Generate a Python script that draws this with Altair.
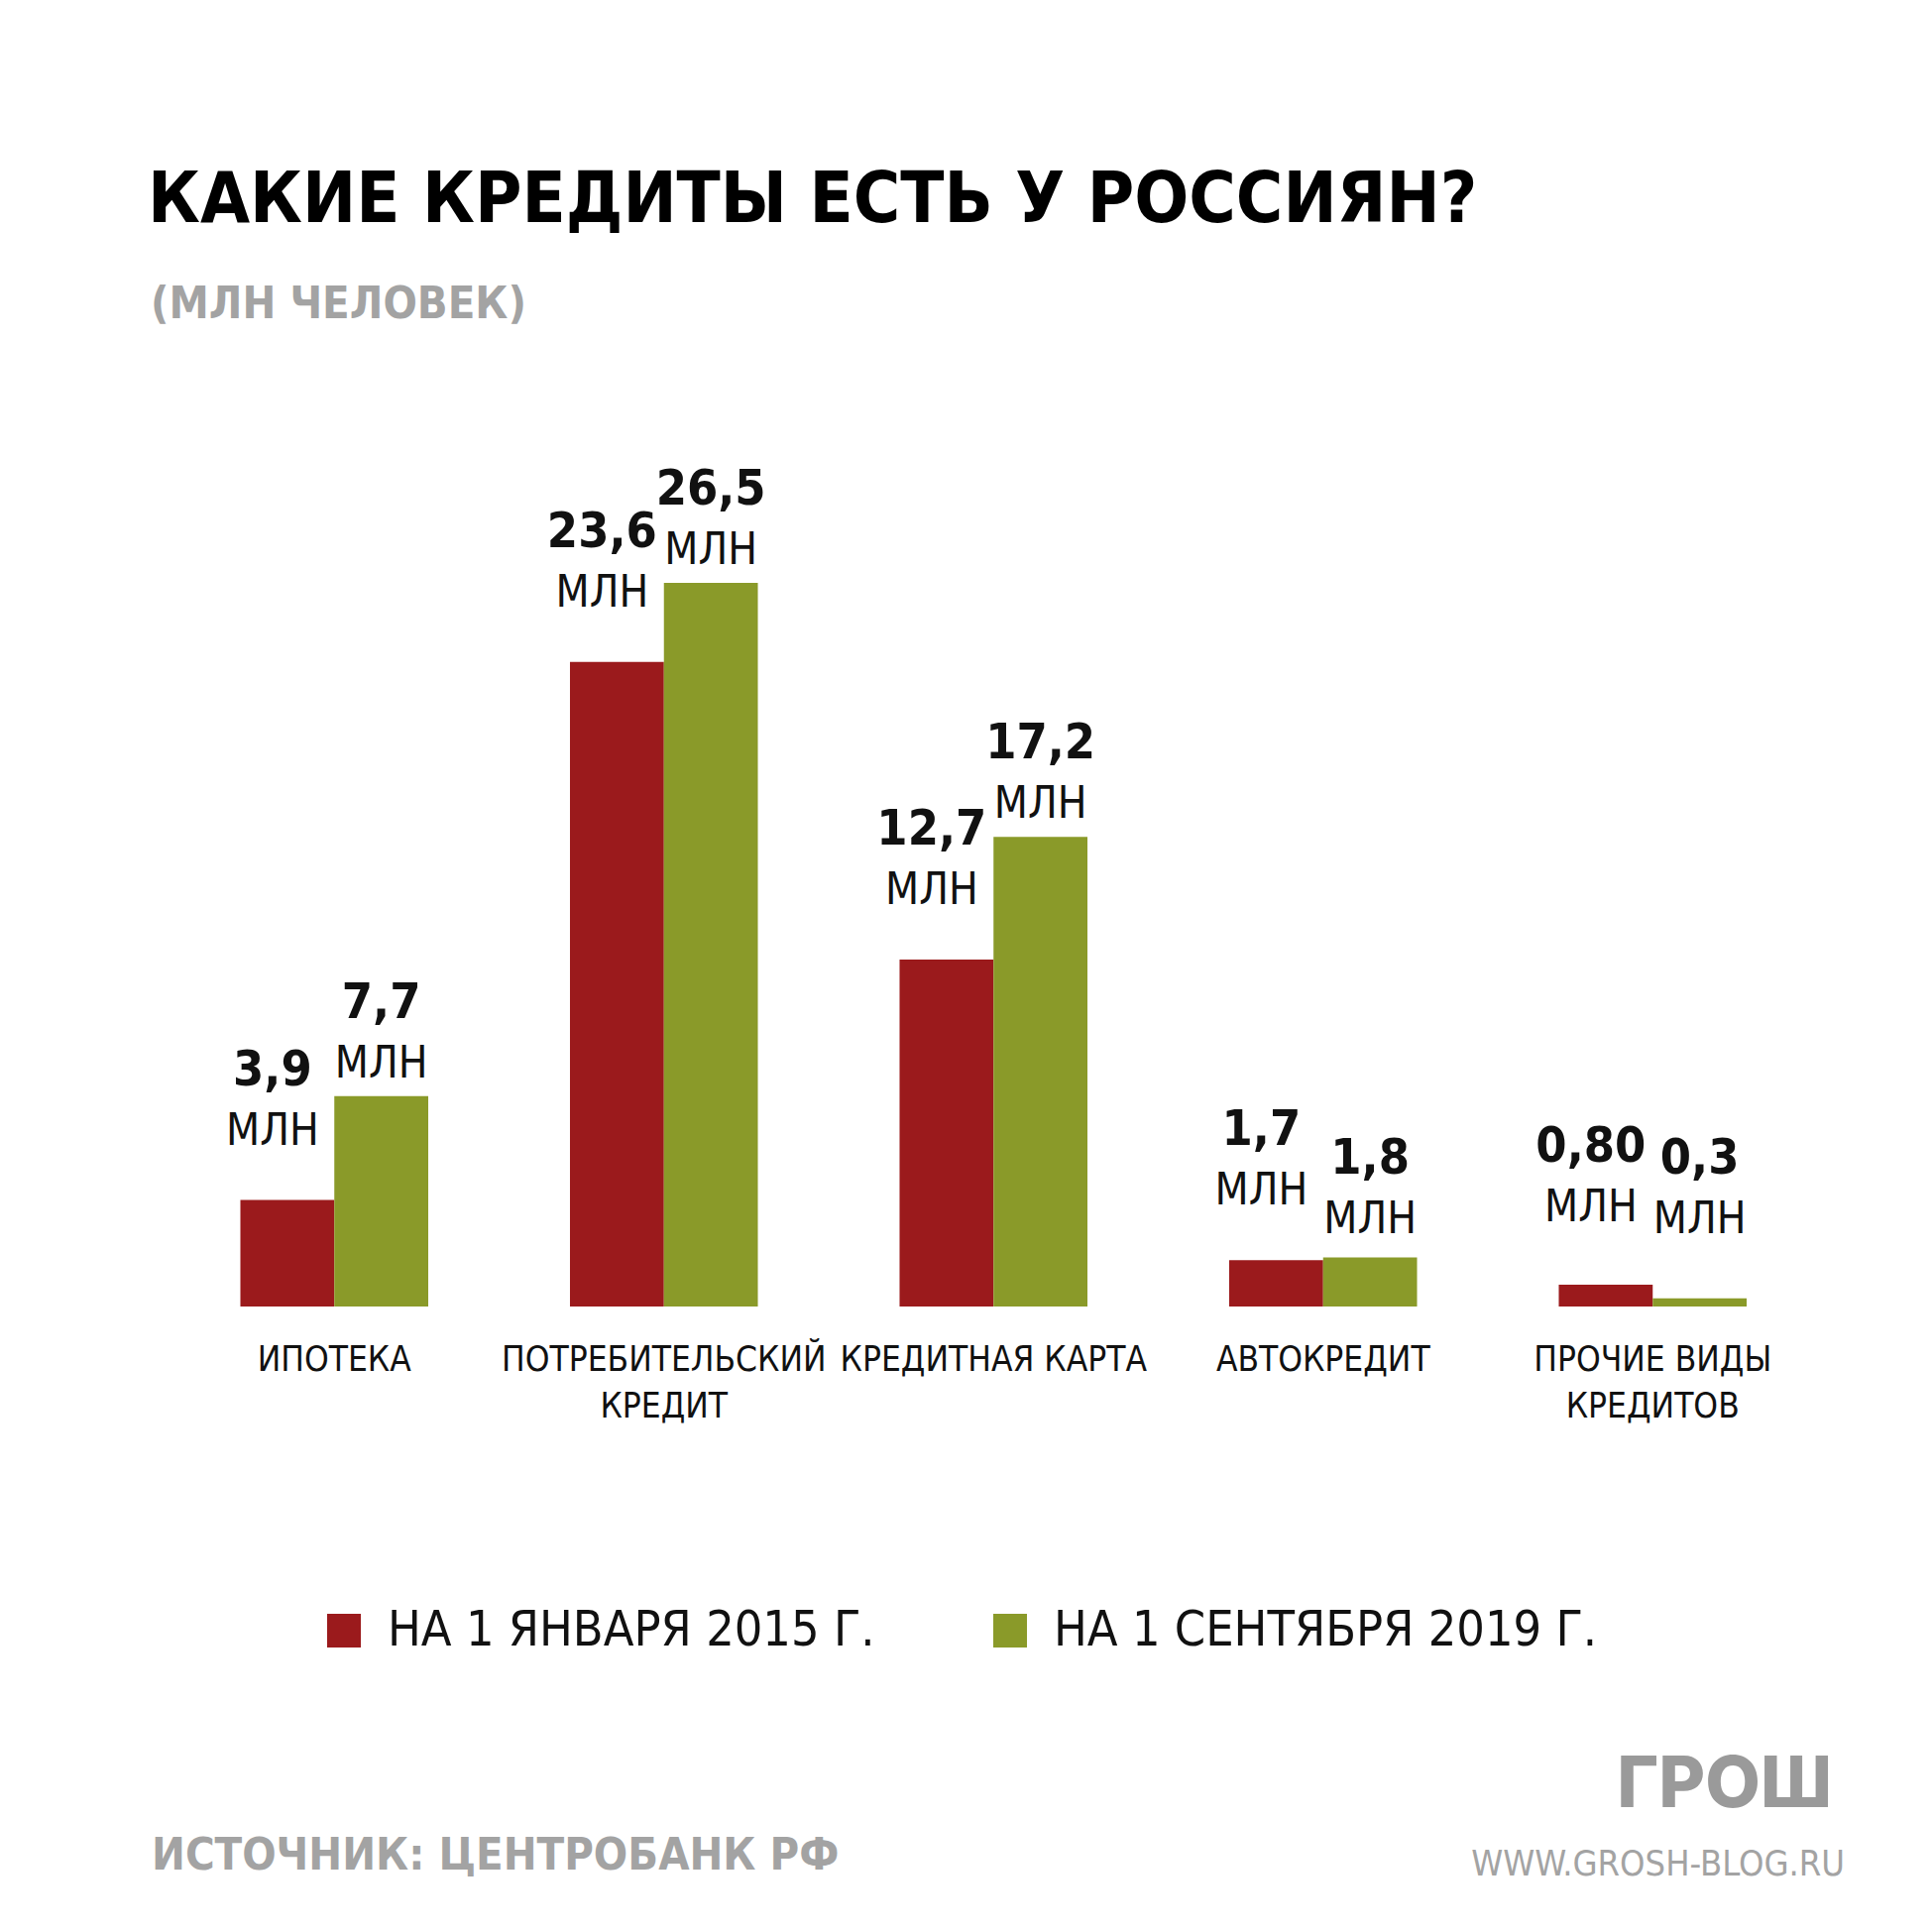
import altair as alt
import pandas as pd

# ---------------- data ----------------
categories = ["ИПОТЕКА", "ПОТРЕБИТЕЛЬСКИЙ|КРЕДИТ", "КРЕДИТНАЯ КАРТА", "АВТОКРЕДИТ", "ПРОЧИЕ ВИДЫ|КРЕДИТОВ"]
series = ["НА 1 ЯНВАРЯ 2015 Г.", "НА 1 СЕНТЯБРЯ 2019 Г."]
values_2015 = [3.9, 23.6, 12.7, 1.7, 0.80]
values_2019 = [7.7, 26.5, 17.2, 1.8, 0.3]
labels_2015 = ["3,9", "23,6", "12,7", "1,7", "0,80"]
labels_2019 = ["7,7", "26,5", "17,2", "1,8", "0,3"]
unit = "МЛН"
colors = ["#9b1a1c", "#8a9a29"]

title_text = "КАКИЕ КРЕДИТЫ ЕСТЬ У РОССИЯН?"
subtitle_text = "(МЛН ЧЕЛОВЕК)"
source_text = "ИСТОЧНИК: ЦЕНТРОБАНК РФ"
logo_text = "ГРОШ"
url_text = "WWW.GROSH-BLOG.RU"

rows = []
for i, c in enumerate(categories):
    rows.append({"cat": c, "series": series[0], "s": 0, "value": values_2015[i], "label": labels_2015[i], "unit": unit})
    rows.append({"cat": c, "series": series[1], "s": 1, "value": values_2019[i], "label": labels_2019[i], "unit": unit})
df = pd.DataFrame(rows)

FONT = "'DejaVu Sans Condensed', 'Liberation Sans', sans-serif"
INK = "#111111"
GRAY = "#a3a3a3"

W = 1662.5
H = 826.5

yscale = alt.Scale(domain=[0, 30], nice=False, zero=True)
x_enc = alt.X(
    "cat:N",
    sort=categories,
    scale=alt.Scale(paddingInner=0.43, paddingOuter=0.215),
    axis=alt.Axis(
        title=None, labelExpr="split(datum.value, '|')", labelAngle=0,
        domain=False, ticks=False, labelFont=FONT, labelFontSize=35,
        labelColor=INK, labelPadding=36, labelBaseline="top",
        labelLineHeight=47, labelLimit=600,
    ),
)
xo_enc = alt.XOffset("series:N", sort=series, scale=alt.Scale(paddingInner=0, paddingOuter=0))

base = alt.Chart(df)

bars = base.mark_bar().encode(
    x=x_enc,
    xOffset=xo_enc,
    y=alt.Y("value:Q", scale=yscale, axis=None),
    color=alt.Color(
        "series:N",
        sort=series,
        scale=alt.Scale(domain=series, range=colors),
        legend=alt.Legend(
            title=None, orient="none", legendX=151, legendY=1128.5,
            direction="horizontal", symbolType="square", symbolSize=1156,
            symbolStrokeWidth=0, symbolOpacity=1, labelFont=FONT,
            labelFontSize=50, labelColor=INK, labelOffset=19,
            columnPadding=111, padding=0, labelLimit=2000,
        ),
    ),
)


def label_layer(s_idx, floor, field, dy, dx, size, weight):
    return (
        base.transform_filter(alt.datum.s == s_idx)
        .transform_calculate(ly=f"max(datum.value, {floor})")
        .mark_text(font=FONT, fontSize=size, fontWeight=weight, dy=dy, dx=dx,
                   baseline="alphabetic", align="center", color=INK)
        .encode(
            x=alt.X("cat:N", sort=categories),
            xOffset=alt.XOffset("series:N", sort=series),
            y=alt.Y("ly:Q", scale=yscale, axis=None),
            text=alt.Text(f"{field}:N"),
        )
    )


red_num = label_layer(0, 1.1, "label", -116, -15, 50, "bold")
red_unit = label_layer(0, 1.1, "unit", -56, -15, 44, "normal")
green_num = label_layer(1, 2.0, "label", -79, 0, 50, "bold")
green_unit = label_layer(1, 2.0, "unit", -19, 0, 44, "normal")


def free_text(txt, x, y, size, color, weight="bold", align="left", font=FONT):
    return (
        alt.Chart(pd.DataFrame({"t": [txt]}))
        .mark_text(font=font, fontSize=size, fontWeight=weight, color=color,
                   align=align, baseline="alphabetic")
        .encode(x=alt.value(x), y=alt.value(y), text="t:N")
    )


title = free_text(title_text, -22, -267.5, 72, "#000000")
subtitle = free_text(subtitle_text, -19, -170.5, 45, GRAY)
source = free_text(source_text, -18, 1394.5, 45, GRAY)
logo = free_text(logo_text, 1677, 1331.5, 72, "#9a9a9a", weight=800, align="right", font="Inter, 'DejaVu Sans', sans-serif")
url = free_text(url_text, 1690, 1400.5, 36, GRAY, weight="normal", align="right")

chart = (
    alt.layer(bars, red_num, red_unit, green_num, green_unit, title, subtitle, source, logo, url)
    .properties(
        width=W, height=H,
        autosize=alt.AutoSizeParams(type="none"),
        padding={"left": 163, "top": 483.5, "right": 107.5, "bottom": 623},
        background="#ffffff",
    )
    .configure_view(stroke=None)
)

chart.save("out.html", embed_options={"renderer": "svg", "actions": False})
